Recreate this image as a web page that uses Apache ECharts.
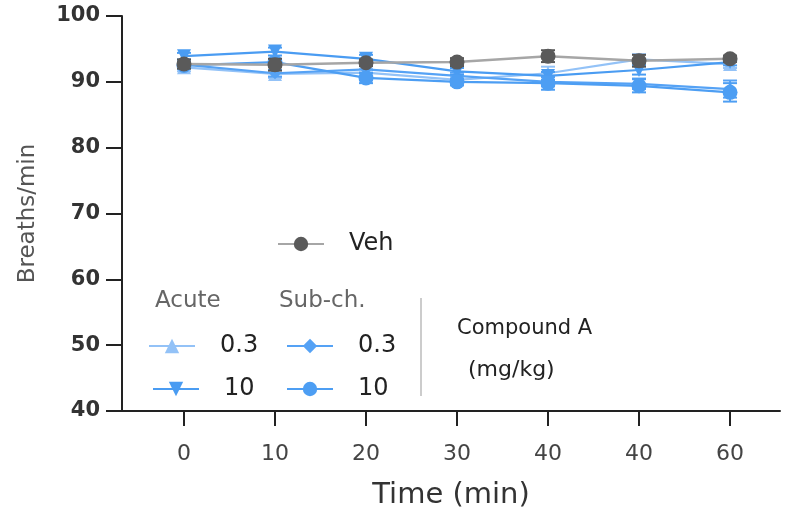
<!DOCTYPE html>
<html>
<head>
<meta charset="utf-8">
<script src="https://cdn.jsdelivr.net/npm/echarts@6/dist/echarts.min.js"></script>
<style>html,body{margin:0;padding:0;background:#fff}#c{width:786px;height:512px}</style>
</head>
<body>
<div id="c"></div>
<script>
// ---- data ----
var timeLabels = ['0', '10', '20', '30', '40', '40', '60'];
var yTicks = [40, 50, 60, 70, 80, 90, 100];

var vehMean   = [92.7, 92.6, 92.9, 93.0, 93.9, 93.2, 93.5];
var vehErr    = [0.7, 0.9, 0.5, 0.6, 0.9, 0.9, 0.5];
var acute03Mean = [92.2, 91.2, 91.4, 90.3, 91.3, 93.4, 92.7];
var acute03Err  = [0.6, 0.6, 0.6, 0.5, 1.0, 0.8, 0.6];
var acute10Mean = [93.9, 94.6, 93.5, 91.6, 90.9, 91.8, 93.0];
var acute10Err  = [0.5, 0.6, 0.6, 0.5, 0.6, 0.7, 0.5];
var sub03Mean = [92.6, 91.3, 91.9, 90.9, 90.0, 89.7, 88.9];
var sub03Err  = [0.5, 0.5, 0.6, 0.5, 0.7, 0.8, 1.3];
var sub10Mean = [92.5, 93.0, 90.6, 90.0, 89.8, 89.4, 88.4];
var sub10Err  = [0.5, 0.5, 0.8, 0.5, 1.0, 1.0, 1.4];

var FONT = 'DejaVu Sans';
var idx = timeLabels.map(function (_, i) { return i; });

function pts(mean) { return mean.map(function (v, i) { return [i, v]; }); }
function errPts(mean, err) { return mean.map(function (v, i) { return [i, v - err[i], v + err[i]]; }); }

function errSeries(name, mean, err, color, z) {
  return {
    name: name, type: 'custom', z: z, silent: true,
    renderItem: function (params, api) {
      var x = api.value(0);
      var lo = api.coord([x, api.value(1)]);
      var hi = api.coord([x, api.value(2)]);
      var w = 7;
      var st = { stroke: color, lineWidth: 2 };
      return { type: 'group', children: [
        { type: 'line', shape: { x1: lo[0], y1: lo[1], x2: hi[0], y2: hi[1] }, style: st },
        { type: 'line', shape: { x1: lo[0] - w, y1: lo[1], x2: lo[0] + w, y2: lo[1] }, style: st },
        { type: 'line', shape: { x1: hi[0] - w, y1: hi[1], x2: hi[0] + w, y2: hi[1] }, style: st }
      ]};
    },
    data: errPts(mean, err)
  };
}

function lineSeries(name, mean, lineColor, markColor, symbol, size, z, lw) {
  return {
    name: name, type: 'line', z: z, data: pts(mean),
    symbol: symbol, symbolSize: size,
    lineStyle: { color: lineColor, width: lw || 2.2 },
    itemStyle: { color: markColor, borderWidth: 0 },
    color: markColor
  };
}

function legendItem(name, left, top, label) {
  return {
    data: [name], left: left, top: top, itemWidth: 46, itemHeight: 18,
    selectedMode: false, padding: 0,
    formatter: function () { return '{s|}{t|' + label + '}'; },
    textStyle: { rich: { s: { width: 20 }, t: { fontFamily: FONT, fontSize: 24, color: '#222' } } }
  };
}

var chart = echarts.init(document.getElementById('c'));
chart.setOption({
  animation: false,
  backgroundColor: '#fff',
  grid: { left: 122, right: 6, top: 16, bottom: 101, containLabel: false, outerBoundsMode: 'none' },
  xAxis: {
    type: 'value', min: -0.681, max: 6.549,
    name: 'Time (min)', nameLocation: 'middle', nameGap: 70,
    nameTextStyle: { fontFamily: FONT, fontSize: 29, color: '#333' },
    axisLine: { onZero: false, lineStyle: { color: '#222', width: 2 } },
    axisTick: { customValues: idx, length: 15, lineStyle: { color: '#222', width: 2 } },
    axisLabel: { customValues: idx, margin: 32, fontFamily: FONT, fontSize: 22, color: '#444',
      formatter: function (v) { return timeLabels[Math.round(v)]; } },
    splitLine: { show: false }
  },
  yAxis: {
    type: 'value', min: yTicks[0], max: yTicks[yTicks.length - 1], interval: 10,
    name: 'Breaths/min', nameLocation: 'middle', nameGap: 82,
    nameTextStyle: { fontFamily: FONT, fontSize: 23, color: '#555' },
    axisLine: { show: true, onZero: false, lineStyle: { color: '#222', width: 2 } },
    axisTick: { show: true, length: 16, lineStyle: { color: '#222', width: 2 } },
    axisLabel: { margin: 22, fontFamily: FONT, fontSize: 21, fontWeight: 'bold', color: '#333' },
    splitLine: { show: false }
  },
  legend: [
    legendItem('Veh', 277, 232, 'Veh'),
    legendItem('Acute 0.3', 148, 334, '0.3'),
    legendItem('Acute 10', 152, 377, '10'),
    legendItem('Sub 0.3', 286, 334, '0.3'),
    legendItem('Sub 10', 286, 377, '10')
  ],
  graphic: [
    { type: 'text', left: 155, top: 290, style: { text: 'Acute', font: '23px "DejaVu Sans"', fill: '#666' } },
    { type: 'text', left: 279, top: 290, style: { text: 'Sub-ch.', font: '23px "DejaVu Sans"', fill: '#666' } },
    { type: 'line', shape: { x1: 421, y1: 298, x2: 421, y2: 396 }, style: { stroke: '#999', lineWidth: 1 } },
    { type: 'text', left: 457, top: 318, style: { text: 'Compound A', font: '21px "DejaVu Sans"', fill: '#222' } },
    { type: 'text', left: 468, top: 359, style: { text: '(mg/kg)', font: '22px "DejaVu Sans"', fill: '#222' } }
  ],
  series: [
    errSeries('e-a03', acute03Mean, acute03Err, '#93c2f7', 2),
    lineSeries('Acute 0.3', acute03Mean, '#93c2f7', '#93c2f7', 'triangle', 14, 3),
    errSeries('e-s03', sub03Mean, sub03Err, '#55a2f5', 4),
    lineSeries('Sub 0.3', sub03Mean, '#55a2f5', '#55a2f5', 'diamond', 12, 5),
    errSeries('e-a10', acute10Mean, acute10Err, '#4a9cf2', 6),
    lineSeries('Acute 10', acute10Mean, '#4a9cf2', '#4a9cf2', 'path://M0,0 L10,0 L5,9 Z', 14, 7),
    errSeries('e-s10', sub10Mean, sub10Err, '#4d9ef3', 8),
    lineSeries('Sub 10', sub10Mean, '#4d9ef3', '#4d9ef3', 'circle', 15, 9),
    errSeries('e-veh', vehMean, vehErr, '#555', 10),
    lineSeries('Veh', vehMean, '#a6a6a6', '#5a5a5a', 'circle', 15, 11, 2.5)
  ]
});
</script>
</body>
</html>
